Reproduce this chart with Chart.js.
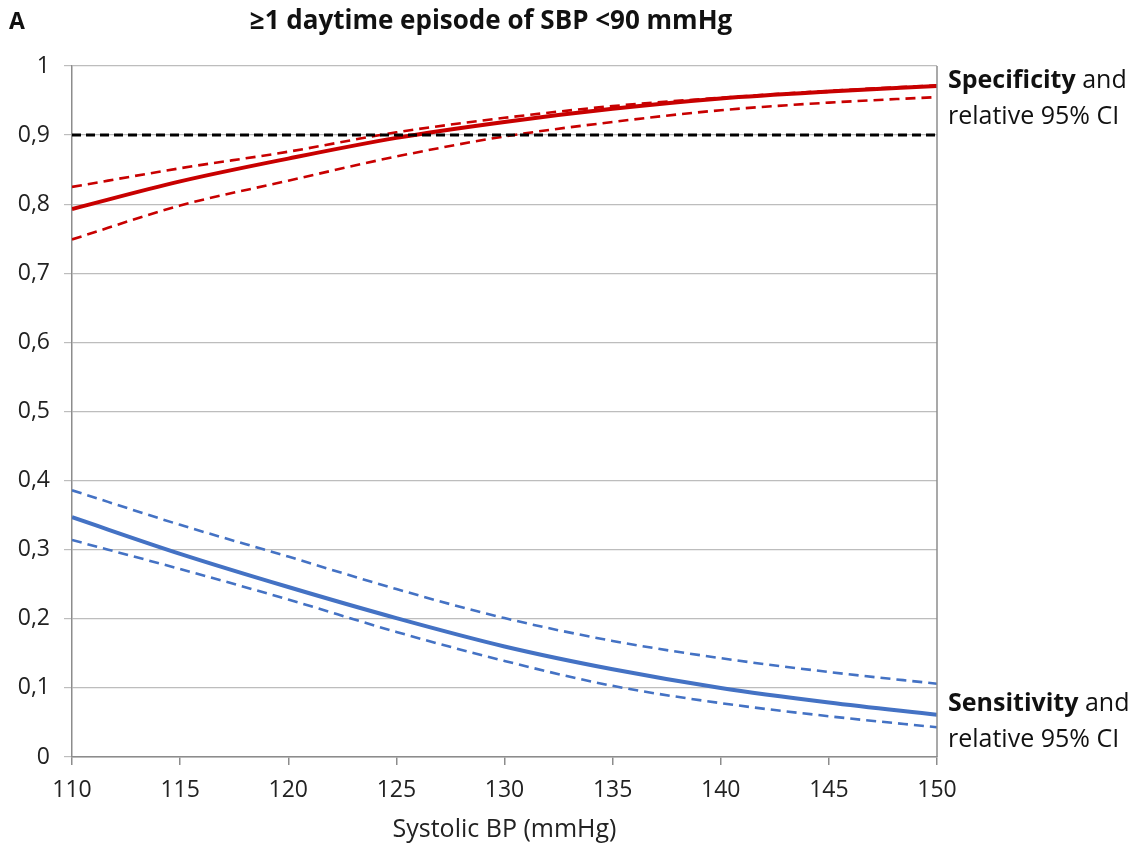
<!DOCTYPE html>
<html lang="en">
<head>
  <meta charset="UTF-8">
  <title>Daytime SBP episode</title>
  <script src="https://cdn.jsdelivr.net/npm/chart.js"></script>
  <style>
    html, body { margin: 0; padding: 0; background: #fff; }
    #wrap { width: 1143px; height: 847px; }
  </style>
</head>
<body>
<div id="wrap"><canvas id="chart"></canvas></div>
<script>
  // systolic BP thresholds (mmHg)
  const sbp = [110, 115, 120, 125, 130, 135, 140, 145, 150];

  // specificity and its 95% CI
  const spec   = [0.793, 0.833, 0.866, 0.896, 0.919, 0.938, 0.953, 0.963, 0.971];
  const specHi = [0.825, 0.852, 0.876, 0.904, 0.925, 0.942, 0.954, 0.964, 0.972];
  const specLo = [0.749, 0.798, 0.834, 0.869, 0.898, 0.919, 0.936, 0.947, 0.955];

  // sensitivity and its 95% CI
  const sens   = [0.347, 0.294, 0.246, 0.201, 0.160, 0.127, 0.100, 0.079, 0.061];
  const sensHi = [0.386, 0.336, 0.290, 0.243, 0.201, 0.168, 0.143, 0.123, 0.106];
  const sensLo = [0.314, 0.272, 0.228, 0.181, 0.139, 0.103, 0.078, 0.059, 0.043];

  const refLine = 0.9;

  const FONT = '"Open Sans", "DejaVu Sans", sans-serif';
  const RED = '#c80000', BLUE = '#4472c4';

  const pts = arr => arr.map((v, i) => ({ x: sbp[i], y: v }));

  const line = (data, color, width, dash) => ({
    data: pts(data),
    borderColor: color,
    borderWidth: width,
    borderDash: dash || [],
    pointRadius: 0,
    fill: false,
    cubicInterpolationMode: 'monotone'
  });

  // title, panel letter, right-hand labels and right border
  const extras = {
    id: 'extras',
    afterDraw(c) {
      const ctx = c.ctx, a = c.chartArea;
      ctx.save();
      ctx.strokeStyle = '#8c8c8c';
      ctx.lineWidth = 1.5;
      ctx.beginPath();
      ctx.moveTo(a.right, a.top);
      ctx.lineTo(a.right, a.bottom);
      ctx.stroke();

      ctx.fillStyle = '#111';
      ctx.textBaseline = 'middle';
      ctx.font = 'bold 23px ' + FONT;
      ctx.fillText('A', 9, 22);
      ctx.font = 'bold 26px ' + FONT;
      ctx.textAlign = 'center';
      ctx.fillText('≥1 daytime episode of SBP <90 mmHg', 491, 22);

      ctx.textAlign = 'left';
      const side = (y, bold) => {
        const x = a.right + 11;
        ctx.font = 'bold 25px ' + FONT;
        ctx.fillText(bold, x, y);
        const w = ctx.measureText(bold + ' ').width;
        ctx.font = '25px ' + FONT;
        ctx.fillText('and', x + w, y);
        ctx.fillText('relative 95% CI', x, y + 36);
      };
      side(81, 'Specificity');
      side(704, 'Sensitivity');
      ctx.restore();
    }
  };

  new Chart(document.getElementById('chart'), {
    type: 'line',
    data: {
      datasets: [
        { ...line([], '#000', 3, [9, 5]), data: [{ x: 110, y: refLine }, { x: 150, y: refLine }] },
        line(specHi, RED, 2.6, [10, 6]),
        line(specLo, RED, 2.6, [10, 6]),
        line(spec, RED, 4),
        line(sensHi, BLUE, 2.6, [10, 6]),
        line(sensLo, BLUE, 2.6, [10, 6]),
        line(sens, BLUE, 4)
      ]
    },
    options: {
      responsive: true,
      maintainAspectRatio: false,
      animation: false,
      layout: { padding: { left: 0, right: 206, top: 66, bottom: 0 } },
      plugins: { legend: { display: false }, tooltip: { enabled: false } },
      scales: {
        x: {
          type: 'linear',
          min: 110, max: 150,
          afterFit: s => { s.height = 90; },
          ticks: { stepSize: 5, color: '#222', padding: 12, font: { family: FONT, size: 23 } },
          grid: { drawOnChartArea: false, drawTicks: true, tickLength: 8, color: '#8c8c8c', lineWidth: 1.5 },
          border: { color: '#8c8c8c', width: 1.5 },
          title: { display: true, text: 'Systolic BP (mmHg)', color: '#222', padding: { top: 0, bottom: 2 }, font: { family: FONT, size: 25 } }
        },
        y: {
          min: 0, max: 1,
          afterFit: s => { s.width = 72; },
          ticks: {
            stepSize: 0.1, color: '#222', padding: 14,
            font: { family: FONT, size: 23 },
            callback: v => String(Math.round(v * 10) / 10).replace('.', ',')
          },
          grid: { color: '#bdbdbd', lineWidth: 1.2, tickLength: 8 },
          border: { color: '#8c8c8c', width: 1.5 }
        }
      }
    },
    plugins: [extras]
  });
</script>
</body>
</html>
